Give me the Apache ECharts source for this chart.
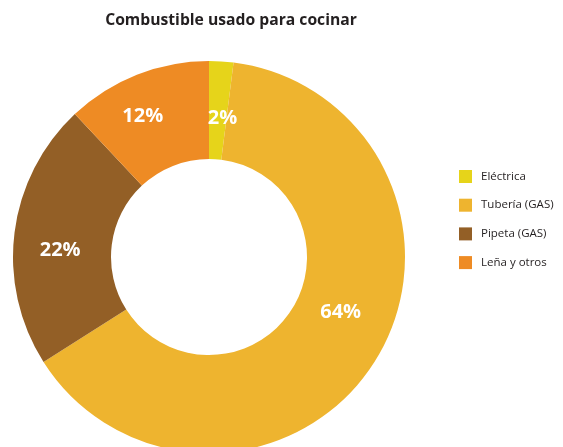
<!DOCTYPE html>
<html>
<head>
<meta charset="utf-8">
<script src="https://cdn.jsdelivr.net/npm/echarts@6/dist/echarts.min.js"></script>
<style>
  html, body { margin: 0; padding: 0; background: #fff; }
  #chart { width: 563px; height: 447px; }
</style>
</head>
<body>
<div id="chart"></div>
<script>
// datos
const categories = ['Eléctrica', 'Tubería (GAS)', 'Pipeta (GAS)', 'Leña y otros'];
const values = [2, 64, 22, 12];
const colors = ['#e6d41a', '#eeb42f', '#935f26', '#ee8b24'];
// ajuste de etiquetas (como en el original)
const labelOffsets = [[4, 11], [5, -25], [0, 12], [-11, -1]];

const chart = echarts.init(document.getElementById('chart'));

const option = {
  animation: false,
  color: colors,
  title: {
    text: 'Combustible usado para cocinar',
    left: 226,
    textAlign: 'center',
    top: 8,
    textStyle: {
      fontFamily: 'Open Sans',
      fontWeight: 'bold',
      fontSize: 15.7,
      color: '#231f20'
    }
  },
  legend: {
    orient: 'vertical',
    left: 459,
    top: 170,
    padding: 0,
    itemWidth: 13,
    itemHeight: 13,
    itemGap: 15.7,
    icon: 'rect',
    textStyle: {
      fontFamily: 'Open Sans',
      fontSize: 11.5,
      color: '#231f20',
      padding: [0, 0, 0, 4]
    },
    data: categories
  },
  series: [{
    type: 'pie',
    center: [209, 257],
    radius: [98, 196],
    startAngle: 90,
    clockwise: true,
    avoidLabelOverlap: false,
    itemStyle: { borderWidth: 0 },
    label: {
      show: true,
      position: 'inside',
      formatter: '{c}%',
      color: '#fff',
      fontFamily: 'Open Sans',
      fontWeight: 'bold',
      fontSize: 20
    },
    labelLine: { show: false },
    emphasis: { disabled: true },
    data: categories.map((name, i) => ({
      name: name,
      value: values[i],
      label: { offset: labelOffsets[i] }
    }))
  }]
};

chart.setOption(option);
</script>
</body>
</html>
